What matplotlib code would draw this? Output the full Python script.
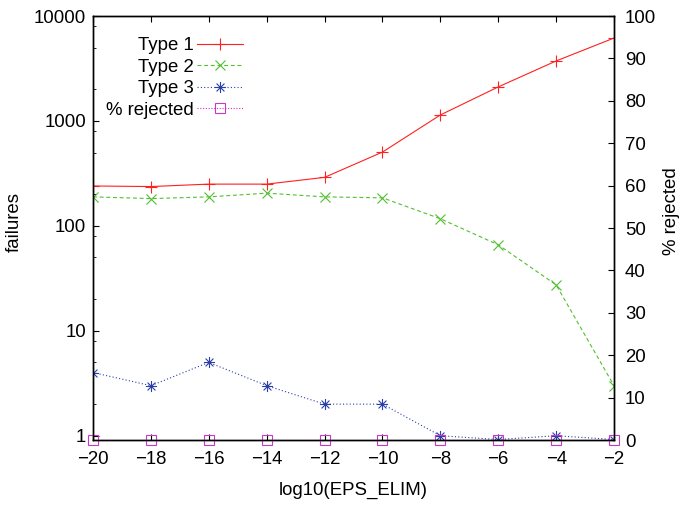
import numpy as np
import matplotlib
matplotlib.use("Agg")
import matplotlib.pyplot as plt
from matplotlib.path import Path
from matplotlib.ticker import FixedLocator, FuncFormatter, NullFormatter

plt.rcParams['font.family'] = ['Liberation Sans', 'DejaVu Sans']

# data
eps = [-20, -18, -16, -14, -12, -10, -8, -6, -4, -2]
type1 = [240, 237, 250, 250, 290, 505, 1140, 2110, 3730, 6170]
type2 = [189, 182, 189, 205, 189, 185, 117, 66, 27.4, 3]
type3 = [4, 3, 5, 3, 2, 2, 1, 0.92, 1, 0.92]
rejected = [0, 0, 0, 0, 0, 0, 0, 0, 0, 0]

left_ticks = [1, 10, 100, 1000, 10000]
right_ticks = list(range(0, 101, 10))
x_ticks = list(range(-20, 0, 2))

FS = 13.4
LW = 0.8

# gnuplot style asterisk (+ and x together)
c = 0.7071
asterisk = Path(
    [(-1, 0), (1, 0), (0, -1), (0, 1), (-c, -c), (c, c), (-c, c), (c, -c)],
    [Path.MOVETO, Path.LINETO] * 4)

fig = plt.figure(figsize=(6.82, 5.07), dpi=100)
ax = fig.add_axes([0.1364, 0.1321, 0.9003 - 0.1364, 0.9684 - 0.1321])
ax2 = ax.twinx()

l1, = ax.plot(eps, type1, color='#ff2020', lw=LW, ls='-', marker='+', ms=8, mew=LW, label='Type 1')
l2, = ax.plot(eps, type2, color='#50c030', lw=LW, ls=(0, (3.5, 2.5)), marker='x', ms=7, mew=LW, label='Type 2')
l3, = ax.plot(eps, type3, color='#2a40a8', lw=LW, ls=(0, (1, 2)), marker=asterisk, ms=8, mew=LW,
              mfc='none', label='Type 3')
l4, = ax2.plot(eps, rejected, color='#c838c8', lw=LW, ls=(0, (1, 1.5)), marker='s', ms=7, mew=LW,
               mfc='none', label='% rejected', clip_on=False)

ax.set_yscale('log')
ax.set_ylim(0.91, 10000)
ax.set_xlim(-20, -2)
ax2.set_ylim(0, 100)

ax.xaxis.set_major_locator(FixedLocator(x_ticks))
ax.yaxis.set_major_locator(FixedLocator(left_ticks))
ax.yaxis.set_major_formatter(FuncFormatter(lambda v, p: '%d' % v))
minor = [m * 10 ** k for k in range(0, 4) for m in (2, 5, 8)]
ax.yaxis.set_minor_locator(FixedLocator(minor))
ax.yaxis.set_minor_formatter(NullFormatter())
ax2.yaxis.set_major_locator(FixedLocator(right_ticks))

ax.tick_params(axis='both', which='major', direction='in', length=4.5, width=0.8,
               labelsize=FS, top=True, right=False)
ax.tick_params(axis='x', pad=8)
ax.tick_params(axis='y', pad=5)
ax.tick_params(axis='y', which='minor', direction='in', length=2.5, width=0.6, right=False)
ax2.tick_params(axis='y', direction='in', length=4.5, width=0.8, labelsize=FS, pad=8)
ax2.tick_params(axis='x', top=False, bottom=False)

for a in (ax, ax2):
    for s in a.spines.values():
        s.set_linewidth(1.0)

ax.set_xlabel('log10(EPS_ELIM)', fontsize=FS, labelpad=10)
ax.set_ylabel('failures', fontsize=FS)
ax2.set_ylabel('% rejected', fontsize=FS)
ax.yaxis.set_label_coords(-0.134, 0.514)
ax2.yaxis.set_label_coords(1.094, 0.54)

lgd = ax2.legend([l1, l2, l3, l4], ['Type 1', 'Type 2', 'Type 3', '% rejected'],
                 loc='upper right', bbox_to_anchor=(0.288, 0.950), bbox_transform=ax.transAxes,
                 frameon=False, fontsize=FS, markerfirst=False, numpoints=1,
                 handlelength=2.5, handletextpad=0.15, labelspacing=0.24,
                 borderpad=0, borderaxespad=0)

fig.savefig('out.png', dpi=100)
